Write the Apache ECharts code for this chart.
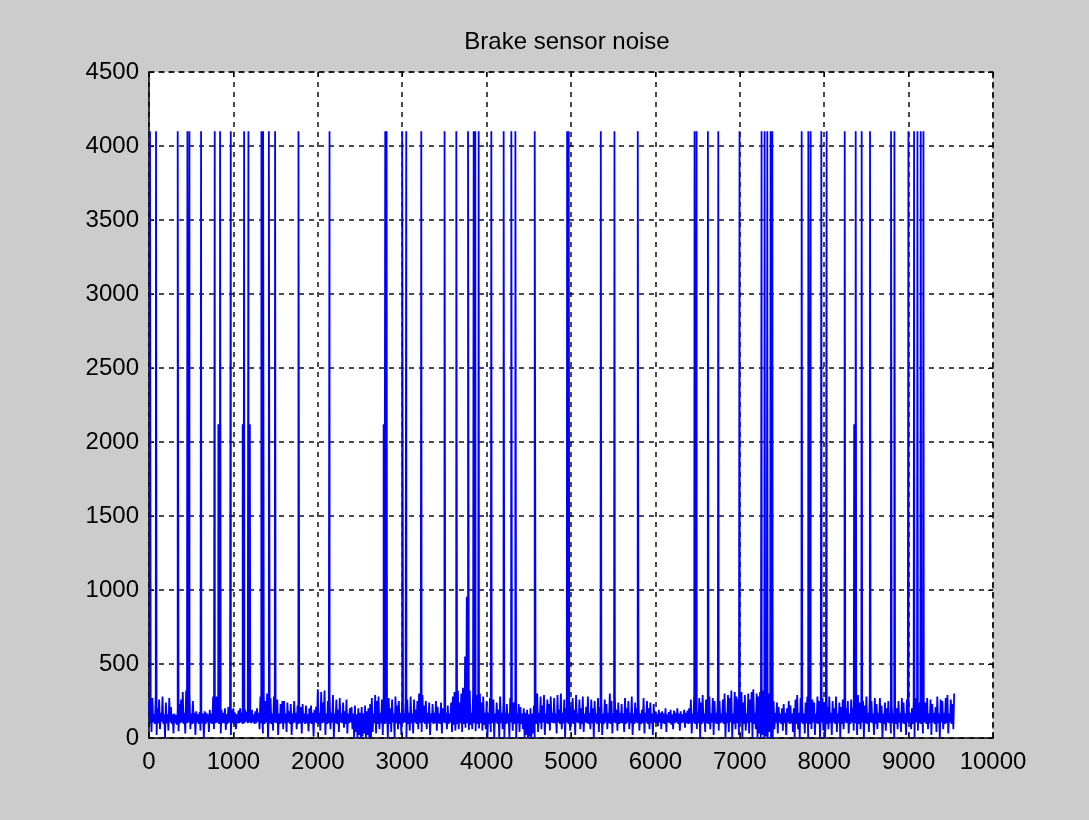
<!DOCTYPE html>
<html>
<head>
<meta charset="utf-8">
<script src="https://cdn.jsdelivr.net/npm/echarts@6/dist/echarts.min.js"></script>
<style>
html,body{margin:0;padding:0;background:#cccccc;}
#c{width:1089px;height:820px;}
</style>
</head>
<body>
<div id="c"></div>
<script>
// ---- data ----
const titleText = 'Brake sensor noise';
const xTicks = [0,1000,2000,3000,4000,5000,6000,7000,8000,9000,10000];
const yTicks = [0,500,1000,1500,2000,2500,3000,3500,4000,4500];
const sampleStep = 20; // noiseHi at 0,20,40,... ; noiseLo halfway between

// local upper readings of the noise band
const noiseHi = [
 250,165,270,160,290,200,260,170,280,160,240,160,270,210,160,165,155,190,230,260,
 310,170,320,180,300,165,250,170,180,160,175,185,165,180,170,160,190,165,280,290,
 280,165,260,190,170,200,160,210,165,190,200,170,160,185,200,170,165,190,175,160,
 170,190,160,180,200,170,280,165,290,250,300,170,270,165,280,190,260,165,230,250,
 250,165,240,180,230,165,250,170,220,160,210,230,165,220,160,200,220,170,190,210,
 330,170,310,240,320,165,250,280,170,290,165,260,190,270,165,240,180,260,165,200,
 210,165,220,160,200,170,210,165,220,180,200,230,270,165,290,250,280,170,260,290,
 290,170,270,200,260,165,280,220,250,170,270,165,240,260,170,280,165,260,190,250,
 300,165,290,220,250,170,240,165,230,170,250,210,165,240,200,165,170,220,165,240,
 280,310,170,320,240,300,340,165,300,250,320,170,310,230,290,165,300,240,280,170,
 250,170,270,180,260,165,240,190,280,170,250,170,230,165,270,190,240,260,165,230,
 210,165,200,170,190,160,200,165,220,250,300,170,280,220,290,165,260,230,280,170,
 270,165,290,190,300,170,260,200,280,165,210,270,190,290,165,260,200,280,165,210,
 280,170,260,200,250,165,270,210,240,165,260,230,170,300,250,165,270,190,240,170,
 230,165,270,200,250,170,280,165,240,200,260,165,190,270,170,250,200,240,165,230,
 180,160,190,170,180,165,200,160,175,190,160,185,170,200,165,180,160,190,170,185,
 200,260,165,300,250,170,270,240,290,165,260,200,280,165,270,250,170,280,250,165,
 260,300,170,290,270,320,165,310,280,260,170,310,240,290,165,300,260,310,330,170,
 300,280,310,170,320,290,280,300,165,290,250,170,240,210,165,200,230,170,200,250,
 220,165,200,260,290,170,270,210,165,240,280,300,170,260,240,165,280,250,170,270,
 240,165,210,280,170,250,200,280,165,240,210,260,170,200,250,165,260,200,170,230,
 290,240,165,250,220,280,170,300,250,165,270,230,170,270,220,165,240,200,250,170,
 220,165,230,200,250,170,270,240,165,260,230,170,200,240,270,165,240,210,170,230,
 240,270,165,260,230,170,210,280,165,260,250,170,270,290,165,260,230,300
];
// local lower readings of the noise band
const noiseLo = [
 100,40,105,95,20,100,60,110,95,0,100,50,105,95,30,100,90,45,100,105,
 95,30,100,105,60,95,100,20,105,95,50,100,0,95,105,40,100,95,60,100,
 105,95,30,100,100,55,95,105,20,100,95,60,100,100,105,95,100,110,100,105,
 100,105,95,100,110,60,100,30,95,105,0,100,95,50,105,100,20,95,100,60,
 100,40,105,95,20,100,105,60,95,100,30,105,95,100,45,100,95,10,105,100,
 95,50,100,105,20,95,100,60,105,0,100,95,40,105,100,70,95,30,100,105,
 60,0,40,0,20,0,10,30,0,20,5,0,40,100,30,95,60,100,20,95,
 100,0,95,40,105,0,100,60,95,20,100,105,0,95,50,100,30,105,95,60,
 100,40,105,95,60,100,20,105,95,100,50,100,95,30,105,100,60,95,105,40,
 90,50,95,60,100,40,95,70,100,55,90,60,100,45,95,65,100,50,90,60,
 0,95,40,100,0,105,95,0,100,60,0,95,100,0,105,50,95,0,100,40,
 95,60,0,20,0,10,0,30,0,95,40,100,60,105,20,100,95,50,105,100,
 100,30,105,95,60,100,0,105,95,50,100,95,20,105,100,60,95,40,105,100,
 95,60,100,0,105,95,40,100,20,95,105,60,100,95,30,105,100,50,95,100,
 100,40,95,105,60,100,20,95,105,100,50,95,100,30,105,95,60,100,20,105,
 100,80,105,60,100,95,40,105,100,90,60,100,105,95,50,100,105,70,100,95,
 100,30,105,95,60,100,0,95,105,40,100,95,60,105,20,100,95,50,100,105,
 95,0,100,40,105,0,95,60,100,20,105,0,95,50,100,30,105,0,95,60,
 0,30,0,20,0,10,0,40,0,0,60,100,30,105,95,50,100,20,105,95,
 100,40,0,95,60,0,105,95,30,100,0,95,60,105,20,100,95,0,105,50,
 0,95,60,100,20,105,95,40,100,0,95,60,105,100,30,95,105,50,100,20,
 95,60,105,0,100,95,40,105,100,20,95,60,105,100,0,95,50,105,100,30,
 100,0,95,60,105,40,100,95,20,105,100,60,95,0,105,50,100,95,30,105,
 95,60,100,20,105,95,40,100,0,105,60,95,100,30,105,95,60
];

// full-scale spikes (saturated readings)
const spikeFullX = [12,83,340,455,479,617,779,842,969,1127,1178,1332,1352,1420,1494,1771,2139,
 2799,2815,3000,3048,3226,3502,3641,3780,3847,3866,3906,4056,4202,4293,4341,4570,4954,4973,
 5353,5515,5791,6464,6488,6622,6745,6997,7258,7294,7326,7365,7385,7733,7812,7839,7966,8029,
 8243,8373,8444,8543,8792,8832,8998,9065,9105,9144,9176];
const spikeFullY = 4100;
// half-scale and smaller spikes
const spikeMidX = [822,1110,1195,2780,8355,3745,3765];
const spikeMidY = [2120,2120,2120,2120,2120,550,955];

// ---- build the series ----
const pts = [];
noiseHi.forEach((v,i)=>pts.push([i*sampleStep, v]));
noiseLo.forEach((v,i)=>pts.push([i*sampleStep + sampleStep/2, v]));
spikeFullX.forEach(x=>pts.push([x, spikeFullY]));
spikeMidX.forEach((x,i)=>pts.push([x, spikeMidY[i]]));
pts.sort((a,b)=>a[0]-b[0]);

const font = 'Liberation Sans, Arial, sans-serif';
const dash = [5,5];
const plain = v => String(v);

const chart = echarts.init(document.getElementById('c'), null, {renderer:'canvas'});
chart.setOption({
  animation:false,
  backgroundColor:'#cccccc',
  graphic:[{
    type:'text', x:567, y:42,
    style:{text:titleText, font:'24px '+font, fill:'#000', textAlign:'center', textVerticalAlign:'middle'}
  }],
  grid:{left:149, top:72, right:96, bottom:82, show:true, backgroundColor:'#ffffff', borderWidth:0, containLabel:false},
  xAxis:[{
    type:'value', min:xTicks[0], max:xTicks[xTicks.length-1], interval:1000, position:'bottom',
    axisLine:{show:true, onZero:false, lineStyle:{color:'#000', width:1.5}},
    axisTick:{show:true, inside:true, length:5, lineStyle:{color:'#000'}},
    axisLabel:{show:true, color:'#000', fontSize:24, fontFamily:font, margin:12, formatter:plain},
    splitLine:{show:true, lineStyle:{color:'#111', width:1.5, type:dash}}
  },{
    type:'value', min:xTicks[0], max:xTicks[xTicks.length-1], interval:1000, position:'top',
    axisLine:{show:true, onZero:false, lineStyle:{color:'#111', width:1.5, type:dash}},
    axisTick:{show:true, inside:true, length:5, lineStyle:{color:'#000'}},
    axisLabel:{show:false}, splitLine:{show:false}
  }],
  yAxis:[{
    type:'value', min:yTicks[0], max:yTicks[yTicks.length-1], interval:500, position:'left',
    axisLine:{show:true, onZero:false, lineStyle:{color:'#000', width:1.5}},
    axisTick:{show:true, inside:true, length:5, lineStyle:{color:'#000'}},
    axisLabel:{show:true, color:'#000', fontSize:24, fontFamily:font, margin:10, formatter:plain},
    splitLine:{show:true, lineStyle:{color:'#111', width:1.5, type:dash}}
  },{
    type:'value', min:yTicks[0], max:yTicks[yTicks.length-1], interval:500, position:'right',
    axisLine:{show:true, onZero:false, lineStyle:{color:'#111', width:1.5, type:dash}},
    axisTick:{show:true, inside:true, length:5, lineStyle:{color:'#000'}},
    axisLabel:{show:false}, splitLine:{show:false}
  }],
  series:[{
    type:'line', xAxisIndex:0, yAxisIndex:0, data:pts,
    showSymbol:false, symbol:'none', clip:true, sampling:null,
    lineStyle:{color:'#0000ff', width:1.8}
  }]
});
</script>
</body>
</html>
